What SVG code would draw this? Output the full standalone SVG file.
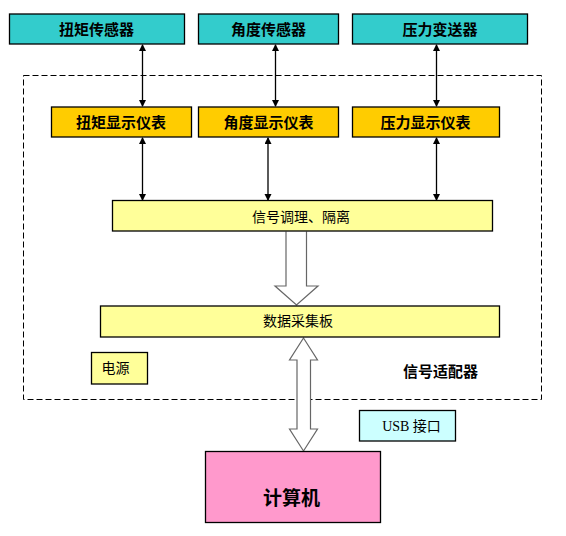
<svg xmlns="http://www.w3.org/2000/svg" width="566" height="536" viewBox="0 0 566 536">
<defs>
<style>
.box{stroke:#000;stroke-width:1.3}
.teal{fill:#33CCCC}
.orange{fill:#FFCC00}
.yel{fill:#FFFF99}
.pink{fill:#FF99CC}
.cyan{fill:#CCFFFF}
.t{font-family:"Noto Sans CJK SC","Liberation Sans",sans-serif;font-size:14px;fill:#000;text-anchor:middle}
.b{font-weight:bold;font-size:15px}
.ln{stroke:#000;stroke-width:1.3;fill:none}
.hollow{fill:#fff;stroke:#666;stroke-width:1.2}
</style>
<marker id="ah" markerWidth="8" markerHeight="8" refX="6" refY="3.5" orient="auto-start-reverse" markerUnits="userSpaceOnUse">
<path d="M0,0 L7,3.5 L0,7 Z" fill="#000"/>
</marker>
</defs>
<rect width="566" height="536" fill="#fff"/>
<g id="adapter">
<rect x="23.5" y="75.5" width="518" height="324" fill="none" stroke="#000" stroke-width="1" stroke-dasharray="6,3"/>
<text class="t b" x="440.5" y="377">信号适配器</text>
</g>
<g id="connectors">
<line class="ln" x1="142.5" y1="45" x2="142.5" y2="106" marker-start="url(#ah)" marker-end="url(#ah)"/>
<line class="ln" x1="275.5" y1="45" x2="275.5" y2="106" marker-start="url(#ah)" marker-end="url(#ah)"/>
<line class="ln" x1="436.5" y1="45" x2="436.5" y2="106" marker-start="url(#ah)" marker-end="url(#ah)"/>
<line class="ln" x1="142.5" y1="138" x2="142.5" y2="200" marker-start="url(#ah)" marker-end="url(#ah)"/>
<line class="ln" x1="268" y1="138" x2="268" y2="200" marker-start="url(#ah)" marker-end="url(#ah)"/>
<line class="ln" x1="436.5" y1="138" x2="436.5" y2="200" marker-start="url(#ah)" marker-end="url(#ah)"/>
<path class="hollow" d="M286,231.5 L286,286 L275,286 L296.5,305 L318,286 L306.5,286 L306.5,231.5"/>
<path class="hollow" d="M303.5,338 L289.5,360 L297,360 L297,429 L289.5,429 L303.5,451 L317.5,429 L310.5,429 L310.5,360 L317.5,360 Z"/>
</g>
<g id="n1"><rect class="box teal" x="9.5" y="14" width="175" height="30"/><text class="t b" x="96.5" y="34.5">扭矩传感器</text></g>
<g id="n2"><rect class="box teal" x="198.5" y="14" width="140" height="30"/><text class="t b" x="268.5" y="34.5">角度传感器</text></g>
<g id="n3"><rect class="box teal" x="352.5" y="14" width="175" height="30"/><text class="t b" x="440" y="34.5">压力变送器</text></g>
<g id="n4"><rect class="box orange" x="51.5" y="107" width="140" height="30"/><text class="t b" x="121" y="128">扭矩显示仪表</text></g>
<g id="n5"><rect class="box orange" x="198.5" y="107" width="140" height="30"/><text class="t b" x="268.5" y="128">角度显示仪表</text></g>
<g id="n6"><rect class="box orange" x="352.5" y="107" width="147" height="30"/><text class="t b" x="425.5" y="128">压力显示仪表</text></g>
<g id="n7"><rect class="box yel" x="112.5" y="200.5" width="380" height="30.5"/><text class="t" x="301" y="221.5">信号调理、隔离</text></g>
<g id="n8"><rect class="box yel" x="100.5" y="306" width="399" height="31"/><text class="t" x="298" y="326">数据采集板</text></g>
<g id="n9"><rect class="box yel" x="91.5" y="352.5" width="56" height="31.5"/><text class="t" x="115.5" y="373">电源</text></g>
<g id="n10"><rect class="box cyan" x="359.5" y="410.5" width="96" height="30.5"/><text x="411.5" y="431" style="font-family:'Liberation Serif','Noto Sans CJK SC',serif;font-size:14px;text-anchor:middle">USB 接口</text></g>
<g id="n11"><rect class="box pink" x="205.5" y="451.5" width="175" height="71"/><text class="t b" x="291.5" y="505" style="font-size:19px">计算机</text></g>
</svg>
